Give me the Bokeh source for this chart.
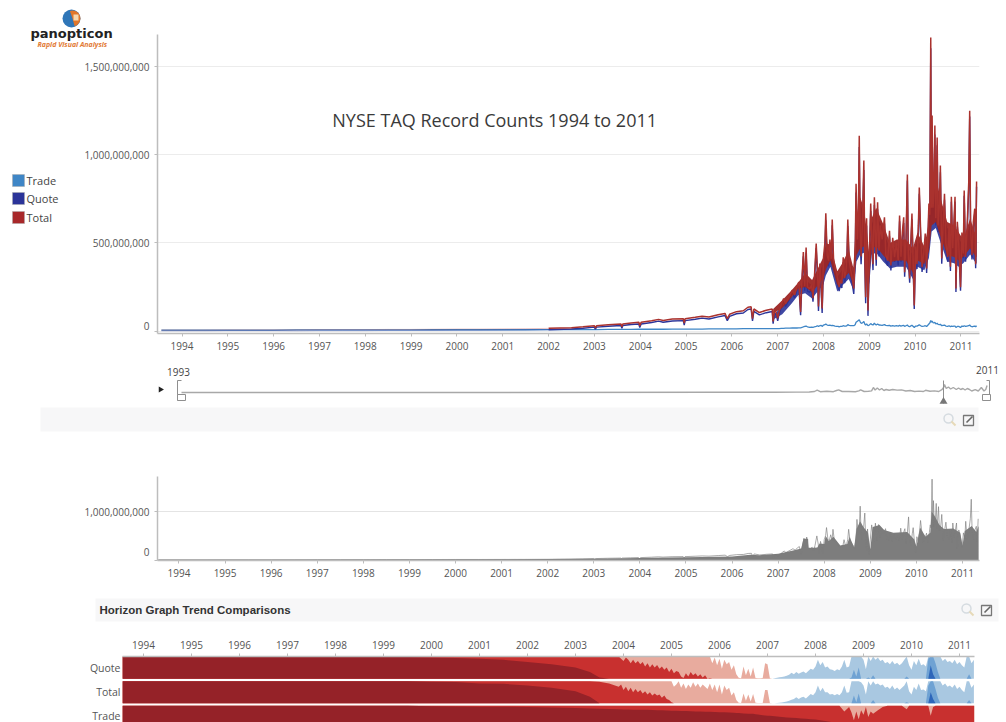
import numpy as np
from bokeh.core.properties import value
from bokeh.embed import file_html
from bokeh.layouts import column
from bokeh.models import FixedTicker, NumeralTickFormatter, Range1d
from bokeh.plotting import figure
from bokeh.resources import INLINE

SERIES_NAMES = ["Trade", "Quote", "Total"]
SERIES_COLORS = ["#3f86c6", "#2b3499", "#a8282a"]
YEAR_TICKS = list(range(1994, 2012))

# record counts, millions
YEARS = [
 1993.55,1994,1994.5,1995,1995.5,1996,1996.5,1997,1997.5,1998,
 1998.5,1999,1999.5,2000,2000.5,2001,2001.5,2002,2002.5,2002.75,
 2003,2003.02,2003.05,2003.3,2003.58,2003.6,2003.62,2003.8,2003.97,2003.99,
 2004.02,2004.25,2004.4,2004.5,2004.7,2004.94,2004.96,2004.98,2005.2,2005.35,
 2005.5,2005.7,2005.85,2005.9,2005.95,2006.1,2006.25,2006.35,2006.42,2006.45,
 2006.48,2006.6,2006.75,2006.88,2006.9,2006.93,2006.97,2007.0,2007.03,2007.08,
 2007.13,2007.17,2007.2,2007.26,2007.32,2007.37,2007.42,2007.46,2007.5,2007.53,
 2007.56,2007.59,2007.62,2007.65,2007.7,2007.74,2007.77,2007.8,2007.84,2007.87,
 2007.89,2007.92,2007.95,2007.97,2008.0,2008.03,2008.05,2008.08,2008.11,2008.14,
 2008.17,2008.19,2008.22,2008.25,2008.29,2008.32,2008.34,2008.37,2008.4,2008.43,
 2008.46,2008.49,2008.51,2008.53,2008.56,2008.59,2008.62,2008.66,2008.69,2008.71,
 2008.74,2008.76,2008.78,2008.8,2008.82,2008.85,2008.88,2008.9,2008.92,2008.94,
 2008.97,2009.0,2009.03,2009.06,2009.08,2009.11,2009.13,2009.15,2009.18,2009.21,
 2009.24,2009.28,2009.33,2009.36,2009.4,2009.44,2009.47,2009.51,2009.55,2009.59,
 2009.63,2009.66,2009.69,2009.72,2009.75,2009.77,2009.8,2009.83,2009.85,2009.88,
 2009.91,2009.93,2009.96,2009.98,2010.01,2010.04,2010.07,2010.09,2010.12,2010.15,
 2010.19,2010.22,2010.25,2010.28,2010.3,2010.32,2010.34,2010.355,2010.37,2010.39,
 2010.41,2010.43,2010.45,2010.48,2010.5,2010.53,2010.55,2010.58,2010.61,2010.64,
 2010.67,2010.71,2010.74,2010.77,2010.79,2010.82,2010.85,2010.87,2010.89,2010.92,
 2010.95,2010.99,2011.02,2011.05,2011.07,2011.1,2011.13,2011.17,2011.19,2011.21,
 2011.24,2011.27,2011.3,2011.32,2011.34]
TOTAL = [
 6,6,6,7,7,7,7,8,8,8,
 9,9,10,11,11,12,13,15,19,24,
 30,18,30,36,40,24,40,46,50,30,
 50,58,66,60,68,70,45,70,78,84,
 80,92,100,70,95,110,115,135,138,70,
 125,105,118,125,55,115,105,72,110,150,
 185,155,170,200,232,205,250,278,108,300,
 448,255,474,250,240,262,186,300,497,330,
 140,383,250,128,420,500,669,430,400,520,
 410,633,400,362,320,280,250,290,270,419,
 300,340,420,633,400,350,310,241,420,837,
 520,640,1110,560,423,620,968,420,192,640,
 116,430,724,480,380,760,560,405,732,457,
 600,520,646,430,400,570,372,530,420,500,
 400,656,422,560,646,334,520,889,440,298,
 540,667,350,145,480,380,600,815,560,362,
 450,554,355,560,724,660,1667,700,1224,700,
 800,1167,640,1100,600,720,940,412,600,780,
 500,420,600,365,763,470,640,763,241,620,
 500,249,560,440,798,420,560,850,1252,570,
 430,620,695,380,850]
TRADE = [
 5,5,5,5,5,5,6,6,6,6,
 6,6,7,7,7,7,7,8,8,8,
 8,8,8,9,9,9,9,9,10,10,
 10,10,10,10,11,11,11,11,11,11,
 12,12,12,12,12,12,13,13,13,13,
 13,13,14,14,14,14,14,14,14,15,
 15,16,16,16,17,17,17,18,18,20,
 24,26,28,24,20,22,20,24,26,30,
 26,30,32,26,34,36,40,34,32,34,
 30,32,30,28,26,26,24,26,26,30,
 28,28,30,36,32,30,30,30,36,50,
 56,60,64,52,44,46,54,40,34,40,
 30,34,42,36,34,44,38,34,40,34,
 34,32,36,32,30,32,28,30,28,30,
 28,32,28,30,32,26,30,34,28,24,
 30,32,26,20,28,28,32,36,30,26,
 28,30,26,34,40,46,60,50,56,48,
 46,50,40,44,38,36,38,30,32,34,
 28,26,30,24,28,26,28,28,20,26,
 26,20,28,26,30,26,28,30,34,28,
 24,26,28,24,30]
QUOTE = [
 1,1,1,2,2,2,1,2,2,2,
 3,3,3,4,4,5,6,7,11,16,
 22,10,22,27,31,15,31,37,40,20,
 40,48,56,50,57,59,34,59,67,73,
 68,80,88,58,83,98,102,122,125,57,
 112,92,104,111,41,101,91,58,96,135,
 170,139,154,184,215,188,233,260,90,280,
 424,229,446,226,220,240,166,276,471,300,
 114,353,218,102,386,464,629,396,368,486,
 380,601,370,334,294,254,226,264,244,389,
 272,312,390,597,368,320,280,211,384,787,
 464,580,1046,508,379,574,914,380,158,600,
 86,396,682,444,346,716,522,371,692,423,
 566,488,610,398,370,538,344,500,392,470,
 372,624,394,530,614,308,490,855,412,274,
 510,635,324,125,452,352,568,779,530,336,
 422,524,329,526,684,614,1607,650,1168,652,
 754,1117,600,1056,562,684,902,382,568,746,
 472,394,570,341,735,444,612,735,221,594,
 474,229,532,414,768,394,532,820,1218,542,
 406,594,667,356,820]

# range of the dense day-to-day swing of Total, millions
BAND_YEARS = [2006.9,2007.1,2007.3,2007.45,2007.6,2007.75,2008.0,2008.05,2008.15,2008.3,2008.4,2008.55,
 2008.65,2008.72,2008.8,2008.88,2008.95,2009.0,2009.05,2009.15,2009.3,2009.45,2009.6,2009.8,
 2009.95,2010.05,2010.2,2010.3,2010.36,2010.45,2010.55,2010.7,2010.85,2010.95,2011.05,2011.2,2011.3,2011.34]
BAND_LOW = [100,130,190,240,250,220,300,350,400,260,290,330,
 270,430,470,480,400,300,470,480,430,390,400,400,
 330,400,380,450,600,620,540,430,420,400,420,470,430,420]
BAND_HIGH = [125,175,230,275,330,290,420,500,490,340,380,460,
 360,650,760,700,560,430,640,700,610,500,520,520,
 470,560,480,620,900,870,760,620,600,560,520,640,560,600]

# solid body of the grey overview area, millions
GREY_YEARS = [1993.55,1996,1999,2001,2002,2003,2004,2005,2006,2006.4,2006.6,2007,2007.3,2007.5,2007.55,
 2007.65,2007.66,2007.85,2007.9,2008,2008.03,2008.1,2008.2,2008.35,2008.5,2008.55,2008.65,2008.7,2008.78,
 2008.85,2008.95,2009.0,2009.05,2009.2,2009.3,2009.5,2009.8,2009.95,2010.0,2010.08,2010.2,2010.3,2010.33,
 2010.4,2010.5,2010.6,2010.8,2010.95,2011.0,2011.05,2011.2,2011.3,2011.35]
GREY_BODY = [3,6,10,14,20,28,44,58,75,110,100,130,190,240,440,
 440,250,260,340,330,500,390,480,300,330,480,260,640,800,
 680,560,220,680,720,620,560,580,430,280,670,480,560,1000,
 900,720,640,650,560,300,600,700,580,700]

# little trace under the range slider
MINI_YEARS = [1993,2000,2005,2006.5,2007,2007.3,2007.42,2007.48,2007.55,2007.7,2007.85,2007.92,2007.97,2008.05,2008.2,
 2008.35,2008.43,2008.47,2008.55,2008.65,2008.72,2008.76,2008.8,2008.85,2008.9,2008.95,2009.0,2009.05,2009.12,
 2009.2,2009.3,2009.4,2009.5,2009.6,2009.7,2009.8,2009.9,2009.95,2010.05,2010.15,2010.25,2010.32,2010.36,2010.38,
 2010.42,2010.47,2010.52,2010.58,2010.65,2010.7,2010.75,2010.8,2010.85,2010.9,2010.95,2011.0,2011.08,2011.15,
 2011.22,2011.28,2011.32,2011.35]
MINI_LEVEL = [0,0,0.2,0.3,0.4,0.5,1,2.4,0.8,1.2,0.8,2,2.6,1,1,
 0.8,1.6,2.6,1,1.2,1.6,5,2.5,4.5,2.5,4,2,3,2.2,
 3,2.4,2.6,1.5,2,1,1.4,1,2.2,1.2,1.6,1,2.8,5,8,
 4,5.5,3.5,5,3,4.5,3,4,2.5,4,3,1.5,2.8,1.5,
 5,1.5,3,7]

# horizon level: negative = red bands, positive = blue bands
HORIZON_YEARS = [1993.56,1999.0,1999.5,2000.0,2000.5,2001.0,2001.5,2002.0,2002.5,2003.0,2003.3,2003.5,2003.7] + \
                [round(2003.9 + 0.05 * i, 2) for i in range(149)]
HORIZON_QUOTE = [
 -3,-3,-2.98,-2.95,-2.93,-2.9,-2.85,-2.75,-2.65,-2.5,-2.3,-2.05,-2.0,
 -2.0,-1.9,-1.8,-1.95,-1.85,-1.7,-1.85,-1.7,-1.8,-1.65,
 -1.75,-1.55,-1.7,-1.5,-1.65,-1.5,-1.62,-1.45,-1.55,-1.4,
 -1.5,-1.3,-1.45,-1.25,-1.35,-1.3,-1.1,-1.03,-1.25,-1.1,
 -1.3,-1.15,-1.25,-1.1,-1.2,-1.05,-1.15,-1.0,-1.02,-0.7,
 -0.95,-0.6,-0.9,-0.45,-0.85,-0.65,-0.75,-0.4,-0.6,-0.2,
 -0.04,-0.02,-0.55,-0.15,-0.45,-0.1,-0.5,-0.03,-0.02,-0.02,
 -0.03,-0.7,-0.65,-0.02,0.0,0.02,0.04,0.06,0.08,0.1,
 0.13,0.18,0.27,0.2,0.3,0.22,0.28,0.32,0.25,0.35,
 0.45,0.4,0.55,0.85,0.6,0.75,0.5,0.55,0.42,0.4,
 0.35,0.42,0.38,0.55,0.85,0.5,0.55,1.05,1.4,1.1,
 1.5,1.0,0.85,0.42,1.05,0.8,1.15,0.85,0.95,0.8,
 0.85,0.7,0.75,0.65,0.8,0.65,0.72,0.6,0.7,0.85,
 1.1,0.6,0.4,0.8,0.6,0.9,0.6,0.65,0.55,1.9,
 2.6,2.2,1.7,1.3,1.0,0.8,0.9,0.75,0.8,0.7,
 0.85,0.65,0.75,0.6,0.5,1.0,1.2,0.7,0.85]
HORIZON_TOTAL = [
 -3,-3,-3,-2.98,-2.96,-2.9,-2.88,-2.8,-2.7,-2.55,-2.3,-1.98,-1.9,
 -1.75,-1.85,-1.6,-1.75,-1.55,-1.7,-1.5,-1.65,-1.5,-1.6,
 -1.45,-1.55,-1.4,-1.5,-1.35,-1.45,-1.35,-1.4,-1.25,-1.35,
 -1.2,-1.15,-1.05,-0.75,-0.85,-1.0,-0.7,-0.9,-0.65,-0.85,
 -0.7,-0.95,-0.75,-0.9,-0.7,-0.85,-0.75,-0.65,-0.9,-0.6,
 -0.85,-0.5,-0.85,-0.4,-0.8,-0.6,-0.7,-0.35,-0.5,-0.15,
 -0.03,-0.02,-0.45,-0.12,-0.4,-0.08,-0.42,-0.03,-0.02,-0.02,
 -0.02,-0.6,-0.6,-0.02,0.0,0.01,0.02,0.03,0.04,0.06,
 0.08,0.12,0.16,0.2,0.28,0.2,0.26,0.3,0.22,0.32,
 0.42,0.36,0.5,0.8,0.55,0.7,0.5,0.5,0.4,0.42,
 0.36,0.42,0.36,0.5,0.8,0.48,0.5,1.0,1.35,1.05,
 1.45,0.95,0.8,0.4,1.0,0.8,1.15,0.85,0.9,0.8,
 0.85,0.7,0.75,0.65,0.8,0.62,0.72,0.6,0.7,0.8,
 1.05,0.55,0.4,0.75,0.6,0.9,0.6,0.62,0.55,1.8,
 2.5,2.2,1.65,1.25,1.0,0.8,0.9,0.75,0.8,0.7,
 0.85,0.65,0.75,0.6,0.5,1.0,1.15,0.7,0.85]
TRADE_ROW_YEARS = [
 1993.56,1999.0,1999.5,2000.0,2000.5,2001.0,2001.5,2002.0,2002.5,2003.0,
 2003.3,2003.5,2003.7,2003.9,2004.0,2004.1,2004.2,2004.3,2004.4,2004.5,
 2004.6,2004.7,2004.8,2004.9,2005.0,2005.1,2005.2,2005.3,2005.4,2005.5,
 2005.6,2005.7,2005.8,2005.9,2006.0,2006.1,2006.2,2006.3,2006.35,2006.4,
 2006.45,2006.5,2006.6,2006.7,2006.75,2006.8,2006.9,2006.95,2007.0,2007.05,
 2007.2,2007.3,2007.4,2007.5,2007.6,2007.7,2007.8,2007.9,2008.0,2008.1,
 2008.2,2008.3,2008.4,2008.5,2008.6,2008.7,2008.75,2008.8,2008.85,2008.9,
 2008.95,2009.0,2009.05,2009.1,2009.15,2009.2,2009.3,2009.4,2009.5,2009.6,
 2009.7,2009.8,2009.9,2009.95,2010.0,2010.05,2010.15,2010.3,2010.35,2010.4,
 2010.45,2010.5,2010.55,2010.6,2010.7,2010.8,2010.9,2011.0,2011.1,2011.15,
 2011.2,2011.25,2011.31]
HORIZON_TRADE = [
 -3,-3,-3,-2.98,-2.97,-2.96,-2.96,-2.95,-2.93,-2.9,
 -2.88,-2.87,-2.86,-2.85,-2.84,-2.84,-2.83,-2.83,-2.82,-2.82,
 -2.81,-2.8,-2.8,-2.79,-2.78,-2.78,-2.77,-2.77,-2.76,-2.75,
 -2.75,-2.74,-2.73,-2.72,-2.71,-2.71,-2.7,-2.69,-2.68,-2.68,
 -2.67,-2.66,-2.65,-2.64,-2.62,-2.61,-2.58,-2.57,-2.56,-2.55,
 -2.52,-2.5,-2.48,-2.46,-2.45,-2.43,-2.42,-2.4,-2.38,-2.35,
 -2.32,-2.28,-2.25,-2.22,-1.75,-1.95,-1.7,-1.35,-1.75,-1.4,
 -1.8,-1.6,-1.95,-1.5,-1.75,-1.65,-1.8,-1.95,-2.0,-2.0,
 -2.0,-2.0,-1.85,-2.0,-2.0,-2.0,-2.0,-2.0,-2.0,-1.55,
 -1.95,-2.0,-2.0,-2.0,-2.0,-2.0,-2.0,-2.05,-2.0,-2.05,
 -2.0,-2.0,-2.0]

M = 1e6
W = 1006
FONT = "Open Sans"
GREY_TXT = "#555555"
AX = "#bdbdbd"
STRIP = "#f7f7f8"


def style_axis(ax):
    ax.axis_line_color = AX
    ax.axis_line_width = 1.5
    ax.major_tick_line_color = AX
    ax.major_tick_out = 3
    ax.major_tick_in = 0
    ax.minor_tick_line_color = None
    ax.major_label_text_font = FONT
    ax.major_label_text_font_size = "10px"
    ax.major_label_text_color = GREY_TXT
    ax.major_label_standoff = 5


def plain_figure(h, xr, yr, **kw):
    kw.setdefault("width", W)
    return figure(height=h, x_range=xr, y_range=yr, toolbar_location=None, frame_align=False,
                  output_backend="svg", outline_line_color=None, tools="", **kw)


# ---------- main line chart: page frame x 157..979, y 34..333
main_x = Range1d(1993.465, 2011.404)
main_y = Range1d(-14.2 * M, 1684.6 * M)
p = plain_figure(362, main_x, main_y, min_border_left=157, min_border_right=27,
                 min_border_top=34, min_border_bottom=29)
xs = np.array(YEARS)
EARLY = 17   # entries before 2002: thin, nearly merged lines
p.line(xs, np.array(TRADE) * M, line_color=SERIES_COLORS[0], line_width=1.3)
p.varea(BAND_YEARS, (np.array(BAND_LOW) - 35) * M, (np.array(BAND_HIGH) - 35) * M, fill_color=SERIES_COLORS[1],
        fill_alpha=0.9)
p.line(xs[:EARLY + 1], np.array(QUOTE[:EARLY + 1]) * M, line_color=SERIES_COLORS[1], line_width=0.8, line_alpha=0.45)
p.line(xs[EARLY:], np.array(QUOTE[EARLY:]) * M, line_color=SERIES_COLORS[1], line_width=1.4)
p.varea(BAND_YEARS, np.array(BAND_LOW) * M, np.array(BAND_HIGH) * M, fill_color="#9c2624", fill_alpha=0.95)
p.line(xs[:EARLY + 1], np.array(TOTAL[:EARLY + 1]) * M, line_color=SERIES_COLORS[2], line_width=0.7, line_alpha=0.4)
p.line(xs[EARLY:], np.array(TOTAL[EARLY:]) * M, line_color="#aa322e", line_width=1.5)
style_axis(p.xaxis[0]); style_axis(p.yaxis[0])
p.xaxis[0].ticker = FixedTicker(ticks=YEAR_TICKS)
p.yaxis[0].ticker = FixedTicker(ticks=[0, 500 * M, 1000 * M, 1500 * M])
p.yaxis[0].formatter = NumeralTickFormatter(format="0,0")
p.yaxis[0].major_label_overrides = {0: ""}
p.xgrid.visible = False
p.ygrid.grid_line_color = "#ececec"
p.text([1997.28], [1201 * M], text=["NYSE TAQ Record Counts 1994 to 2011"], text_baseline="middle",
       text_font=value(FONT), text_font_size="18px", text_color="#3a3a3a")


def icons(fig, mx, my, ex, ey):
    fig.scatter([mx], [my], size=9, marker="circle", fill_color=None, line_color="#d5dbe0", line_width=1.5)
    fig.segment([mx + 3], [my + 3], [mx + 7], [my + 7], line_color="#e6d9b8", line_width=2)
    fig.quad(left=[ex - 5], right=[ex + 5], top=[ey - 5], bottom=[ey + 5], fill_color=None,
             line_color="#777777", line_width=1.3)
    fig.segment([ex - 2], [ey + 2], [ex + 4], [ey - 4], line_color="#666666", line_width=1.6)


# ---------- range slider strip: page y 362..440, ranges are page pixels
b = plain_figure(78, Range1d(0, W), Range1d(440, 362), min_border=0, x_axis_type=None, y_axis_type=None)
b.xgrid.visible = False; b.ygrid.visible = False
b.quad(left=[40], right=[978], top=[407], bottom=[431], fill_color=STRIP, line_color=None)
b.extra_x_ranges["year"] = Range1d(1993 - 181 / 43.9, 1993 + (W - 181) / 43.9)
b.extra_y_ranges["level"] = Range1d(-48, 30)
b.line(MINI_YEARS, MINI_LEVEL, x_range_name="year", y_range_name="level", line_color="#a8a8a8", line_width=1.4)
b.segment([943, 177, 177, 989, 989], [380, 380, 380, 380, 380], [943, 177, 181, 989, 986], [403, 400, 380, 400, 380],
          line_color="#8f8f8f", line_width=1)
b.quad(left=[177, 982], right=[185, 990], top=[394, 394], bottom=[400, 400], fill_color="white", line_color="#8f8f8f")
b.scatter([943], [401], marker="triangle", size=8, fill_color="#777777", line_color=None)
b.scatter([160], [389], marker="triangle", size=6, angle=-np.pi / 2, fill_color="#222222", line_color=None)
b.text([178, 987], [371, 369], text=["1993", "2011"], text_align="center", text_baseline="middle",
       text_font=value(FONT), text_font_size="10px", text_color="#444444")
icons(b, 948, 418, 968, 420)

# ---------- grey overview: page frame x 157..979, y 476..560
g_x = Range1d(1993.534, 2011.369)
g_y = Range1d(-10 * M, 1722 * M)
g = plain_figure(143, g_x, g_y, min_border_left=157, min_border_right=27, min_border_top=36, min_border_bottom=23)
g.varea(GREY_YEARS, 0, np.array(GREY_BODY) * M, fill_color="#7d7d7d")
g.line(xs, np.array(TOTAL) * M, line_color="#7d7d7d", line_width=1, line_alpha=0.65)
style_axis(g.xaxis[0]); style_axis(g.yaxis[0])
g.xaxis[0].ticker = FixedTicker(ticks=YEAR_TICKS)
g.yaxis[0].ticker = FixedTicker(ticks=[0, 1000 * M])
g.yaxis[0].formatter = NumeralTickFormatter(format="0,0")
g.yaxis[0].major_label_overrides = {0: ""}
g.xgrid.visible = False
g.ygrid.grid_line_color = "#e4e4e4"

# ---------- horizon heading strip: page y 583..630
d = plain_figure(47, Range1d(0, W), Range1d(630, 583), min_border=0, x_axis_type=None, y_axis_type=None)
d.xgrid.visible = False; d.ygrid.visible = False
d.quad(left=[95], right=[998], top=[598], bottom=[621], fill_color=STRIP, line_color=None)
d.text([99], [609], text=["Horizon Graph Trend Comparisons"], text_baseline="middle",
       text_font=value("Liberation Sans"), text_font_style="bold", text_font_size="11.5px", text_color="#333333")
icons(d, 966, 608, 986, 610)

# ---------- horizon rows: page frame x 122..974, y 656..722
ROW_LABELS = ["Quote", "Total", "Trade"]
ROW_SHARE = 22 / 24.5
e = plain_figure(92, Range1d(1993.5625, 2011.3125), Range1d(65.5 / 24.5, 0), x_axis_location="above",
                 min_border_left=122, min_border_right=32, min_border_top=26, min_border_bottom=0)
e.xgrid.visible = False; e.ygrid.visible = False
REDS = ["#e8ab9e", "#c8302f", "#952228"]
BLUES = ["#a9c8e1", "#6fa2d3", "#2d66ba"]
rows = [(HORIZON_YEARS, HORIZON_QUOTE), (HORIZON_YEARS, HORIZON_TOTAL), (TRADE_ROW_YEARS, HORIZON_TRADE)]
for i, (yrs, level) in enumerate(rows):
    h = np.array(level, dtype=float)
    base = i + ROW_SHARE
    for k in range(3):
        e.varea(yrs, base, base - np.clip(-h - k, 0, 1) * ROW_SHARE, fill_color=REDS[k])
        e.varea(yrs, base, base - np.clip(h - k, 0, 1) * ROW_SHARE, fill_color=BLUES[k])
style_axis(e.xaxis[0])
e.xaxis[0].ticker = FixedTicker(ticks=YEAR_TICKS)
yax = e.yaxis[0]
yax.ticker = FixedTicker(ticks=[0.45, 1.45, 2.45])
yax.major_label_overrides = {0.45: ROW_LABELS[0], 1.45: ROW_LABELS[1], 2.45: ROW_LABELS[2]}
yax.axis_line_color = None
yax.major_tick_line_color = None
yax.minor_tick_line_color = None
yax.major_tick_out = 0
yax.major_tick_in = 0
yax.major_label_text_font = FONT
yax.major_label_text_font_size = "10.5px"
yax.major_label_text_color = GREY_TXT
yax.major_label_standoff = 2

# ---------- transparent overlay, left of the charts: logo, legend keys and the two offset "0" labels; ranges are page pixels
o = plain_figure(340, Range1d(0, 157), Range1d(340, 0), width=157, min_border=0, x_axis_type=None, y_axis_type=None,
                 background_fill_color=None, border_fill_color=None,
                 styles={"position": "absolute", "left": "0px", "top": "0px"})
o.xgrid.visible = False; o.ygrid.visible = False
o.scatter([71], [18], marker="circle", size=18, fill_color="#2f76b8", line_color=None)
o.wedge([72], [18], radius=8, start_angle=-1.3, end_angle=1.9, fill_color="#e2762a", line_color=None)
o.quad(left=[73], right=[78], top=[14], bottom=[20], fill_color="#f6d8b0", line_color=None)
o.text([30], [33], text=["panopticon"], text_baseline="middle", text_font=value("DejaVu Sans"),
       text_font_style="bold", text_font_size="13px", text_color="#222222")
o.text([37], [44], text=["Rapid Visual Analysis"], text_baseline="middle", text_font=value(FONT),
       text_font_style="bold italic", text_font_size="7px", text_color="#e27a35")
KEY_TOPS = [174, 192, 211]
o.quad(left=[12] * 3, right=[24] * 3, top=KEY_TOPS, bottom=[t + 12 for t in KEY_TOPS], fill_color=SERIES_COLORS,
       line_color="#aaaaaa", line_width=0.5)
o.text([26] * 3, [t + 6 for t in KEY_TOPS], text=SERIES_NAMES, text_baseline="middle", text_font=value(FONT),
       text_font_size="11px", text_color="#444444")
o.text([149], [325], text=["0"], text_align="right", text_baseline="middle", text_font=value(FONT),
       text_font_size="10px", text_color=GREY_TXT)

o2 = plain_figure(30, Range1d(0, 157), Range1d(570, 540), width=157, min_border=0, x_axis_type=None, y_axis_type=None,
                  background_fill_color=None, border_fill_color=None,
                  styles={"position": "absolute", "left": "0px", "top": "540px"})
o2.xgrid.visible = False; o2.ygrid.visible = False
o2.text([149], [551], text=["0"], text_align="right", text_baseline="middle", text_font=value(FONT),
        text_font_size="10px", text_color=GREY_TXT)

page = column(p, b, g, d, e, o, o2, spacing=0)
open("out.html", "w").write(file_html(page, INLINE))
